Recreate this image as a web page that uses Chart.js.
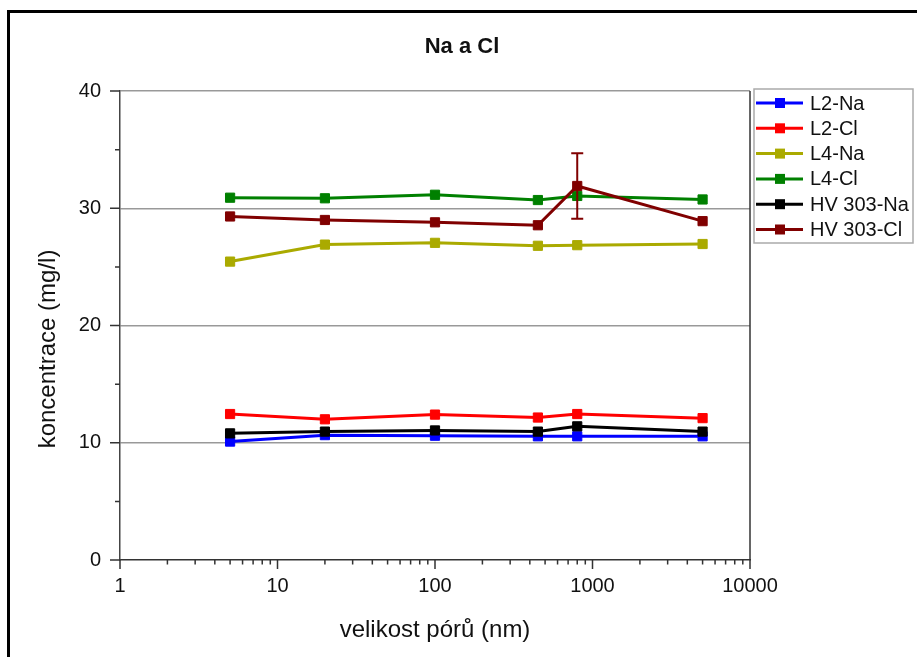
<!DOCTYPE html>
<html>
<head>
<meta charset="utf-8">
<script src="https://cdn.jsdelivr.net/npm/chart.js@4.4.0/dist/chart.umd.min.js"></script>
<style>
  html, body { margin: 0; padding: 0; background: #fff; }
  #wrap { width: 917px; height: 657px; }
</style>
</head>
<body>
<div id="wrap"><canvas id="chart" width="917" height="657"></canvas></div>
<script>
// ===== Data =====
const poreSizes = [5, 20, 100, 450, 800, 5000];
const seriesNames = ["L2-Na", "L2-Cl", "L4-Na", "L4-Cl", "HV 303-Na", "HV 303-Cl"];
const l2Na = [10.1, 10.65, 10.6, 10.55, 10.55, 10.55];
const l2Cl = [12.45, 12.0, 12.4, 12.15, 12.45, 12.1];
const l4Na = [25.45, 26.9, 27.05, 26.8, 26.85, 26.95];
const l4Cl = [30.9, 30.85, 31.15, 30.7, 31.05, 30.75];
const hvNa = [10.8, 10.95, 11.05, 10.95, 11.4, 10.95];
const hvCl = [29.3, 29.0, 28.8, 28.55, 31.9, 28.9];
const hvClErr = [0, 0, 0, 0, 2.8, 0];
const seriesColors = ["#0000ff", "#ff0000", "#aaaa00", "#008000", "#000000", "#800000"];
const xTicks = [1, 10, 100, 1000, 10000];
const yTicks = [0, 10, 20, 30, 40];
const yMinorTicks = [5, 15, 25, 35];

const FONT = "'Liberation Sans', Arial, sans-serif";
const allSeries = [l2Na, l2Cl, l4Na, l4Cl, hvNa, hvCl];
const allErrors = [null, null, null, null, null, hvClErr];

const datasets = allSeries.map((vals, i) => ({
  label: seriesNames[i],
  data: vals.map((v, j) => ({ x: poreSizes[j], y: v })),
  errors: allErrors[i],
  borderColor: seriesColors[i],
  backgroundColor: seriesColors[i],
  pointBackgroundColor: seriesColors[i],
  pointBorderColor: seriesColors[i],
  borderWidth: 3,
  pointStyle: "rect",
  pointRadius: 6.5,
  pointBorderWidth: 1,
  tension: 0,
  order: allSeries.length - i
}));

// ===== Extras: frame, ticks, error bars, legend, titles =====
const extras = {
  id: "extras",
  afterDatasetsDraw(chart) {
    const ctx = chart.ctx;
    const xs = chart.scales.x, ys = chart.scales.y;
    chart.data.datasets.forEach(ds => {
      if (!ds.errors) return;
      ctx.save();
      ctx.strokeStyle = ds.borderColor;
      ctx.lineWidth = 2;
      ds.data.forEach((p, j) => {
        const e = ds.errors[j];
        if (!e) return;
        const px = xs.getPixelForValue(p.x);
        const top = ys.getPixelForValue(p.y + e);
        const bot = ys.getPixelForValue(p.y - e);
        ctx.beginPath();
        ctx.moveTo(px, top); ctx.lineTo(px, bot);
        ctx.moveTo(px - 6, top); ctx.lineTo(px + 6, top);
        ctx.moveTo(px - 6, bot); ctx.lineTo(px + 6, bot);
        ctx.stroke();
      });
      ctx.restore();
    });
  },
  afterDraw(chart) {
    const ctx = chart.ctx;
    const area = chart.chartArea;
    const xs = chart.scales.x, ys = chart.scales.y;
    ctx.save();

    // outer frame
    ctx.strokeStyle = "#000";
    ctx.lineWidth = 3;
    ctx.strokeRect(8.5, 11.5, 1200, 1200);

    // right border of plot
    ctx.strokeStyle = "#333";
    ctx.lineWidth = 1.5;
    ctx.beginPath();
    ctx.moveTo(area.right, area.top);
    ctx.lineTo(area.right, area.bottom);
    ctx.stroke();

    // x ticks (outside, down)
    ctx.beginPath();
    for (let d = 1; d <= 10000; d *= 10) {
      const px = xs.getPixelForValue(d);
      ctx.moveTo(px, area.bottom); ctx.lineTo(px, area.bottom + 9);
      if (d < 10000) {
        for (let m = 2; m <= 9; m++) {
          const mx = xs.getPixelForValue(d * m);
          ctx.moveTo(mx, area.bottom); ctx.lineTo(mx, area.bottom + 4.5);
        }
      }
    }
    // y ticks (outside, left)
    yTicks.forEach(v => {
      const py = ys.getPixelForValue(v);
      ctx.moveTo(area.left - 10, py); ctx.lineTo(area.left, py);
    });
    yMinorTicks.forEach(v => {
      const py = ys.getPixelForValue(v);
      ctx.moveTo(area.left - 5, py); ctx.lineTo(area.left, py);
    });
    ctx.stroke();

    // titles
    ctx.fillStyle = "#111";
    ctx.textAlign = "center";
    ctx.textBaseline = "middle";
    ctx.font = "bold 22px " + FONT;
    ctx.fillText("Na a Cl", 462, 47);
    ctx.font = "24px " + FONT;
    ctx.fillText("velikost pórů (nm)", (area.left + area.right) / 2, 630);
    ctx.save();
    ctx.translate(48, 349);
    ctx.rotate(-Math.PI / 2);
    ctx.fillText("koncentrace (mg/l)", 0, 0);
    ctx.restore();

    // legend
    const lx = 754, ly = 89, lw = 159, lh = 154;
    ctx.fillStyle = "#fff";
    ctx.fillRect(lx, ly, lw, lh);
    ctx.strokeStyle = "#aaa";
    ctx.lineWidth = 1.5;
    ctx.strokeRect(lx, ly, lw, lh);
    ctx.font = "20px " + FONT;
    ctx.textAlign = "left";
    chart.data.datasets.forEach((ds, i) => {
      const ry = ly + 14 + i * 25.3;
      ctx.strokeStyle = ds.borderColor;
      ctx.lineWidth = 3;
      ctx.beginPath();
      ctx.moveTo(lx + 2, ry); ctx.lineTo(lx + 49, ry);
      ctx.stroke();
      ctx.fillStyle = ds.borderColor;
      ctx.fillRect(lx + 21, ry - 5, 10, 10);
      ctx.fillStyle = "#111";
      ctx.fillText(ds.label, lx + 56, ry + 1);
    });
    ctx.restore();
  }
};

// ===== Chart =====
new Chart(document.getElementById("chart"), {
  type: "line",
  data: { datasets },
  options: {
    responsive: false,
    animation: false,
    devicePixelRatio: 1,
    layout: { padding: { left: 0, top: 91, right: 167, bottom: 0 } },
    plugins: { legend: { display: false }, tooltip: { enabled: false }, title: { display: false } },
    scales: {
      x: {
        type: "logarithmic",
        min: 1,
        max: 10000,
        afterBuildTicks: s => { s.ticks = xTicks.map(v => ({ value: v })); },
        afterFit: s => { s.height = 97; },
        grid: { drawOnChartArea: false, drawTicks: false },
        border: { display: true, color: "#333", width: 1.5 },
        ticks: {
          autoSkip: false,
          maxRotation: 0,
          padding: 14,
          color: "#111",
          font: { family: FONT, size: 20 },
          callback: v => String(v)
        }
      },
      y: {
        type: "linear",
        min: 0,
        max: 40,
        afterBuildTicks: s => { s.ticks = yTicks.map(v => ({ value: v })); },
        afterFit: s => { s.width = 120; },
        grid: {
          drawTicks: false,
          color: ctx => (ctx.tick && ctx.tick.value === 0 ? "rgba(0,0,0,0)" : "#999"),
          lineWidth: 1.5
        },
        border: { display: true, color: "#444", width: 1.5 },
        ticks: {
          padding: 19,
          color: "#111",
          font: { family: FONT, size: 20 },
          callback: v => String(v)
        }
      }
    }
  },
  plugins: [extras]
});
</script>
</body>
</html>
